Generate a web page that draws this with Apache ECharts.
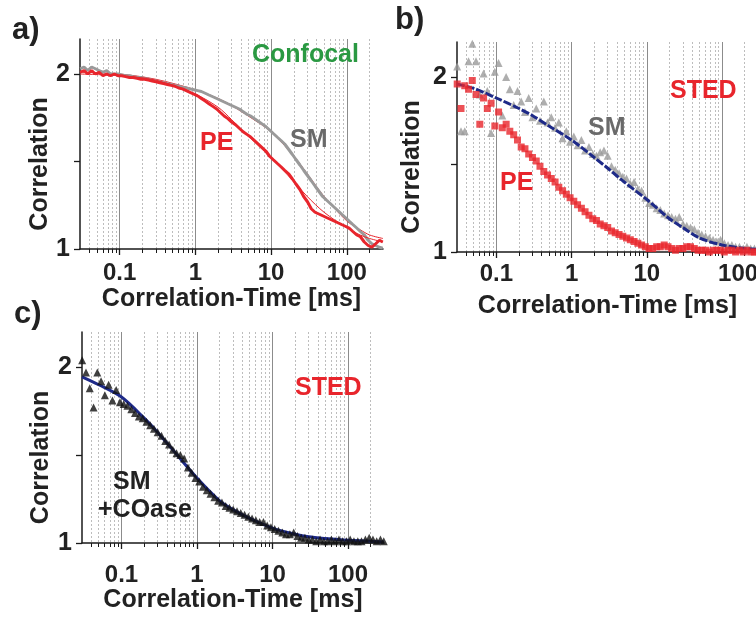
<!DOCTYPE html>
<html><head><meta charset="utf-8">
<script src="https://cdn.jsdelivr.net/npm/echarts@6/dist/echarts.min.js"></script>
<style>html,body{margin:0;padding:0;background:#fff}#chart{width:756px;height:617px}</style>
</head><body><div id="chart"></div>
<script>
// ---- shared lag times (ms) ----
const lagTime = [0.0302,0.0339,0.0380,0.0427,0.0479,0.0537,0.0603,0.0676,0.0759,0.0851,
  0.0955,0.107,0.120,0.135,0.151,0.170,0.191,0.214,0.240,0.269,
  0.302,0.339,0.380,0.427,0.479,0.537,0.603,0.676,0.759,0.851,
  0.955,1.07,1.20,1.35,1.51,1.70,1.91,2.14,2.40,2.69,
  3.02,3.39,3.80,4.27,4.79,5.37,6.03,6.76,7.59,8.51,
  9.55,10.7,12.0,13.5,15.1,17.0,19.1,21.4,24.0,26.9,
  30.2,33.9,38.0,42.7,47.9,53.7,60.3,67.6,75.9,85.1,
  95.5,107,120,135,151,170,191,214,240,269,298];

// ---- panel a (confocal) ----
const aSM = [2.03,2.04,2.02,2.04,2.03,2.02,2.01,2.02,2.00,2.00,
  2.00,1.995,1.99,1.99,1.985,1.98,1.98,1.975,1.97,1.965,
  1.96,1.955,1.95,1.945,1.94,1.935,1.93,1.925,1.92,1.915,
  1.91,1.905,1.90,1.89,1.88,1.87,1.86,1.85,1.84,1.83,
  1.82,1.81,1.80,1.785,1.77,1.76,1.745,1.73,1.715,1.70,
  1.68,1.66,1.64,1.62,1.60,1.57,1.54,1.51,1.48,1.45,
  1.42,1.39,1.36,1.33,1.30,1.28,1.26,1.24,1.22,1.20,
  1.18,1.16,1.14,1.12,1.10,1.08,1.05,1.03,1.02,1.01,1.005];
const aPE = [2.01,2.02,2.00,2.02,2.00,2.01,1.99,2.00,1.99,2.00,
  1.99,1.99,1.985,1.98,1.98,1.975,1.97,1.97,1.965,1.96,
  1.955,1.95,1.945,1.94,1.935,1.93,1.92,1.915,1.905,1.895,
  1.885,1.875,1.86,1.845,1.83,1.815,1.80,1.78,1.76,1.745,
  1.725,1.71,1.69,1.67,1.655,1.64,1.62,1.60,1.58,1.56,
  1.53,1.51,1.49,1.47,1.45,1.43,1.40,1.37,1.34,1.30,
  1.27,1.23,1.21,1.20,1.19,1.18,1.17,1.16,1.15,1.14,
  1.13,1.12,1.10,1.08,1.07,1.04,1.02,1.01,1.03,1.05,1.04];
const aFitTime = [0.03,0.1,0.3,1,2,3,5,10,20,30,50,100,150,200,300];
const aFitSM = [2.01,2.00,1.97,1.91,1.86,1.82,1.76,1.67,1.53,1.43,1.30,1.16,1.11,1.08,1.06];
const aFitPE = [2.00,1.99,1.965,1.885,1.81,1.74,1.645,1.52,1.385,1.30,1.21,1.12,1.08,1.06,1.04];

// ---- panel b (STED) ----
const bSM = [2.06,1.69,1.69,2.09,2.19,2.09,1.90,2.02,1.92,1.68,
  2.03,2.08,1.78,2.00,1.93,1.84,1.92,1.86,1.80,1.88,
  1.77,1.82,1.75,1.86,1.74,1.77,1.71,1.74,1.65,1.69,
  1.63,1.66,1.61,1.64,1.58,1.60,1.56,1.55,1.57,1.58,
  1.55,1.49,1.47,1.45,1.43,1.42,1.39,1.40,1.36,1.35,
  1.31,1.28,1.27,1.25,1.24,1.22,1.21,1.20,1.19,1.20,
  1.16,1.15,1.14,1.13,1.11,1.10,1.09,1.08,1.07,1.06,
  1.07,1.05,1.04,1.04,1.03,1.03,1.02,1.03,1.02,1.02,1.02];
const bPE = [1.96,1.82,1.95,1.93,1.98,1.90,1.73,1.88,1.82,1.85,
  1.72,1.80,1.71,1.73,1.69,1.67,1.64,1.60,1.59,1.56,
  1.54,1.52,1.49,1.46,1.44,1.42,1.40,1.37,1.35,1.33,
  1.31,1.29,1.27,1.25,1.23,1.21,1.19,1.18,1.16,1.15,
  1.14,1.12,1.11,1.10,1.09,1.08,1.07,1.06,1.05,1.04,
  1.03,1.02,1.02,1.03,1.03,1.04,1.03,1.02,1.01,1.02,
  1.02,1.03,1.03,1.02,1.01,1.01,1.01,1.00,1.01,1.01,
  1.01,1.00,1.01,1.01,1.00,1.01,1.00,1.01,1.00,1.00,1.00];
const fitTime = [0.03,0.05,0.1,0.2,0.3,0.5,1,2,3,5,10,20,30,50,100,200,300];
const bFit = [1.96,1.935,1.88,1.82,1.78,1.72,1.64,1.54,1.48,1.40,1.30,1.19,1.14,1.08,1.04,1.02,1.015];

// ---- panel c (STED, SM + COase) ----
const cSM = [2.04,1.97,1.88,1.77,1.97,1.92,1.84,1.90,1.81,1.87,
  1.80,1.79,1.78,1.76,1.74,1.72,1.71,1.69,1.67,1.65,
  1.63,1.61,1.58,1.56,1.53,1.51,1.50,1.48,1.43,1.40,
  1.37,1.35,1.32,1.30,1.28,1.26,1.24,1.23,1.21,1.20,
  1.19,1.18,1.17,1.16,1.15,1.14,1.13,1.12,1.12,1.10,
  1.09,1.08,1.07,1.06,1.05,1.05,1.06,1.04,1.03,1.03,
  1.02,1.02,1.01,1.02,1.01,1.01,1.02,1.01,1.02,1.01,
  1.01,1.02,1.01,1.01,1.01,1.02,1.03,1.02,1.01,1.02,1.01];
const cFit = [1.945,1.90,1.83,1.71,1.63,1.52,1.37,1.24,1.19,1.14,1.085,1.05,1.035,1.025,1.015,1.01,1.005];

// ---- axes ----
const xMajor = [0.1,1,10,100];
const xMinor = [0.04,0.05,0.06,0.07,0.08,0.09,0.2,0.3,0.4,0.5,0.6,0.7,0.8,0.9,
  2,3,4,5,6,7,8,9,20,30,40,50,60,70,80,90,200];
const yTickValues = [1,1.5,2];
const yLabelValues = [1,2];

const FONT = '"Liberation Sans", Arial, Helvetica, sans-serif';
const RED = '#e8252c', GRAY = '#9a9a9a', SMTXT = '#6a6a6a', BLUE = '#1e2a88', GREEN = '#2a9942';

const pair = (t, v) => t.map((x, i) => [x, v[i]]);

const grids = [
  {left: 80, top: 39, width: 303, height: 210, lm: 12, ng: 38, yg: 27, shift100: 0},
  {left: 457, top: 42, width: 301, height: 210, lm: 10, ng: 42, yg: 32, shift100: 32},
  {left: 82, top: 332, width: 302, height: 211, lm: 20, ng: 45, yg: 28, shift100: 0}
];

const labelStyle = {fontSize: 24, fontWeight: 'bold', fontFamily: FONT, color: '#222'};

const xAxis = [], yAxis = [];
grids.forEach((g, gi) => {
  xAxis.push({
    type: 'log', logBase: 10, gridIndex: gi, min: 0.03, max: 300,
    axisLine: {show: true, lineStyle: {color: '#1a1a1a', width: 1.5}},
    axisTick: {show: true, length: 6, customValues: xMajor, lineStyle: {color: '#1a1a1a', width: 1.3}},
    axisLabel: Object.assign({show: true, customValues: xMajor, margin: g.lm,
      formatter: v => (g.shift100 && v === 100) ? '{s|100}' : String(v),
      rich: {s: Object.assign({padding: [0, 0, 0, g.shift100]}, labelStyle)}}, labelStyle),
    splitLine: {show: true, lineStyle: {color: '#8c8c8c', width: 1}},
    name: 'Correlation-Time [ms]', nameLocation: 'middle', nameGap: g.ng,
    nameTextStyle: {fontSize: 25, fontWeight: 'bold', fontFamily: FONT, color: '#222'}
  });
  xAxis.push({
    type: 'log', logBase: 10, gridIndex: gi, min: 0.03, max: 300, position: 'bottom',
    axisLine: {show: false}, axisLabel: {show: false},
    axisTick: {show: true, length: 4, customValues: xMinor, lineStyle: {color: '#1a1a1a', width: 1}},
    splitLine: {show: true, lineStyle: {color: '#bdbdbd', width: 1, type: [2, 2]}}
  });
  yAxis.push({
    type: 'value', gridIndex: gi, min: 1, max: 2.2, interval: 0.5,
    axisLine: {show: true, lineStyle: {color: '#1a1a1a', width: 1.5}},
    axisTick: {show: true, length: 6, customValues: yTickValues, lineStyle: {color: '#1a1a1a', width: 1.3}},
    axisLabel: {show: true, customValues: yLabelValues, margin: 10, fontSize: 25, fontWeight: 'bold',
      fontFamily: FONT, color: '#222'},
    splitLine: {show: false},
    name: 'Correlation', nameLocation: 'middle', nameGap: g.yg,
    nameTextStyle: {fontSize: 25, fontWeight: 'bold', fontFamily: FONT, color: '#222', padding: [0, 40, 0, 0]}
  });
});

const series = [
  // panel a
  {type: 'line', name: 'SM fit', xAxisIndex: 0, yAxisIndex: 0, data: pair(aFitTime, aFitSM), smooth: 0.3,
    showSymbol: false, lineStyle: {color: RED, width: 1}, z: 2},
  {type: 'line', name: 'SM', xAxisIndex: 0, yAxisIndex: 0, data: pair(lagTime, aSM),
    showSymbol: false, lineStyle: {color: GRAY, width: 3}, z: 3},
  {type: 'line', name: 'PE', xAxisIndex: 0, yAxisIndex: 0, data: pair(lagTime, aPE),
    showSymbol: false, lineStyle: {color: RED, width: 3}, z: 4},
  {type: 'line', name: 'PE fit', xAxisIndex: 0, yAxisIndex: 0, data: pair(aFitTime, aFitPE), smooth: 0.3,
    showSymbol: false, lineStyle: {color: RED, width: 1}, z: 5},
  // panel b
  {type: 'scatter', name: 'SM', xAxisIndex: 2, yAxisIndex: 1, data: pair(lagTime, bSM),
    symbol: 'triangle', symbolSize: 8, itemStyle: {color: GRAY}, z: 2},
  {type: 'line', name: 'SM fit', xAxisIndex: 2, yAxisIndex: 1, data: pair(fitTime, bFit), smooth: 0.3,
    showSymbol: false, lineStyle: {color: BLUE, width: 3, type: [8, 2]}, z: 3},
  {type: 'scatter', name: 'PE', xAxisIndex: 2, yAxisIndex: 1, data: pair(lagTime, bPE),
    symbol: 'rect', symbolSize: 7, itemStyle: {color: RED}, z: 4},
  // panel c
  {type: 'line', name: 'fit', xAxisIndex: 4, yAxisIndex: 2, data: pair(fitTime, cFit), smooth: 0.3,
    showSymbol: false, lineStyle: {color: BLUE, width: 3}, z: 2},
  {type: 'scatter', name: 'SM+COase', xAxisIndex: 4, yAxisIndex: 2, data: pair(lagTime, cSM),
    symbol: 'triangle', symbolSize: 8, itemStyle: {color: '#111'}, z: 3}
];

const txt = (x, y, text, size, fill) => ({type: 'text', x, y, z: 100,
  style: {text, fill, font: 'bold ' + size + 'px ' + FONT, textAlign: 'left', textVerticalAlign: 'middle'}});

const chart = echarts.init(document.getElementById('chart'), null, {renderer: 'canvas'});
chart.setOption({
  animation: false,
  backgroundColor: '#fff',
  grid: grids.map(g => ({left: g.left, top: g.top, width: g.width, height: g.height,
    containLabel: false, outerBoundsMode: 'none'})),
  xAxis, yAxis, series,
  graphic: [
    txt(12, 30, 'a)', 31, '#222'),
    txt(395, 20, 'b)', 31, '#222'),
    txt(14, 314, 'c)', 31, '#222'),
    txt(252, 55, 'Confocal', 25, GREEN),
    txt(200, 143, 'PE', 25, RED),
    txt(290, 140, 'SM', 25, SMTXT),
    txt(670, 91, 'STED', 25, RED),
    txt(588, 128, 'SM', 25, SMTXT),
    txt(500, 183, 'PE', 25, RED),
    txt(295, 388, 'STED', 25, RED),
    txt(113, 482, 'SM', 25, '#222'),
    txt(98, 510, '+COase', 25, '#222')
  ]
});
</script></body></html>
